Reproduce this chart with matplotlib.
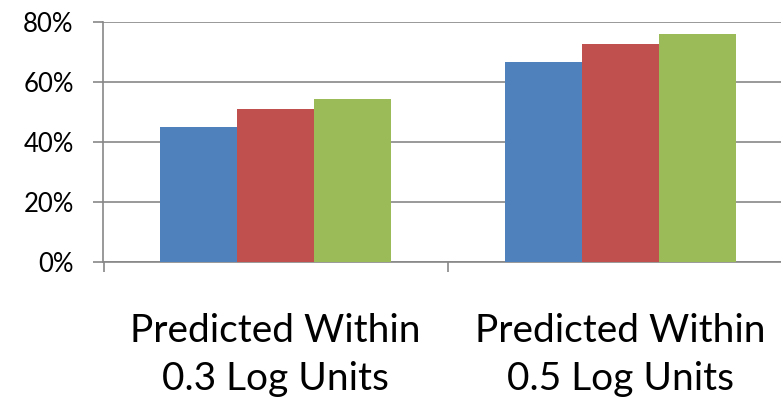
import numpy as np
import matplotlib.pyplot as plt
from matplotlib.ticker import FixedLocator, PercentFormatter

plt.rcParams['font.family'] = ['Lato', 'DejaVu Sans']

# data
categories = ["Predicted Within\n0.3 Log Units", "Predicted Within\n0.5 Log Units"]
series_a = [0.449, 0.665]   # blue
series_b = [0.510, 0.726]   # red
series_c = [0.542, 0.758]   # green
colors = ["#4F81BD", "#C0504D", "#9BBB59"]
y_ticks = [0.0, 0.2, 0.4, 0.6, 0.8]

grid_col = "#878787"

fig = plt.figure(figsize=(7.81, 4.00), dpi=100)
# axes runs a little past the right edge, as in the reference
ax = fig.add_axes([103.5 / 781, 0.3458, 689 / 781, 0.60])

x = np.arange(len(categories))
w = 0.2235
for i, vals in enumerate([series_a, series_b, series_c]):
    ax.bar(x + (i - 1) * w, vals, width=w, color=colors[i], zorder=3)

ax.set_xlim(-0.5, len(categories) - 0.5)
ax.set_ylim(0, 0.8)
ax.set_yticks(y_ticks)
ax.yaxis.set_major_formatter(PercentFormatter(1.0, decimals=0))

# tick marks between categories, labels centred under each group
ax.xaxis.set_major_locator(FixedLocator(np.arange(-0.5, len(categories), 1.0)))
ax.xaxis.set_major_formatter(plt.NullFormatter())
ax.xaxis.set_minor_locator(FixedLocator(x))
ax.set_xticklabels(categories, minor=True, fontsize=28, linespacing=1.42)
ax.tick_params(axis='x', which='minor', length=0, pad=37)
ax.tick_params(axis='x', which='major', length=7.5, width=1.2, color=grid_col)
ax.tick_params(axis='y', length=7.5, width=1.2, color=grid_col, labelsize=18.5, pad=14)

ax.yaxis.grid(True, color=grid_col, linewidth=1.2, zorder=0)
ax.set_axisbelow(True)
for s in ["top", "right"]:
    ax.spines[s].set_visible(False)
for s in ["left", "bottom"]:
    ax.spines[s].set_color(grid_col)
    ax.spines[s].set_linewidth(1.2)

fig.savefig("out.png", dpi=100)
